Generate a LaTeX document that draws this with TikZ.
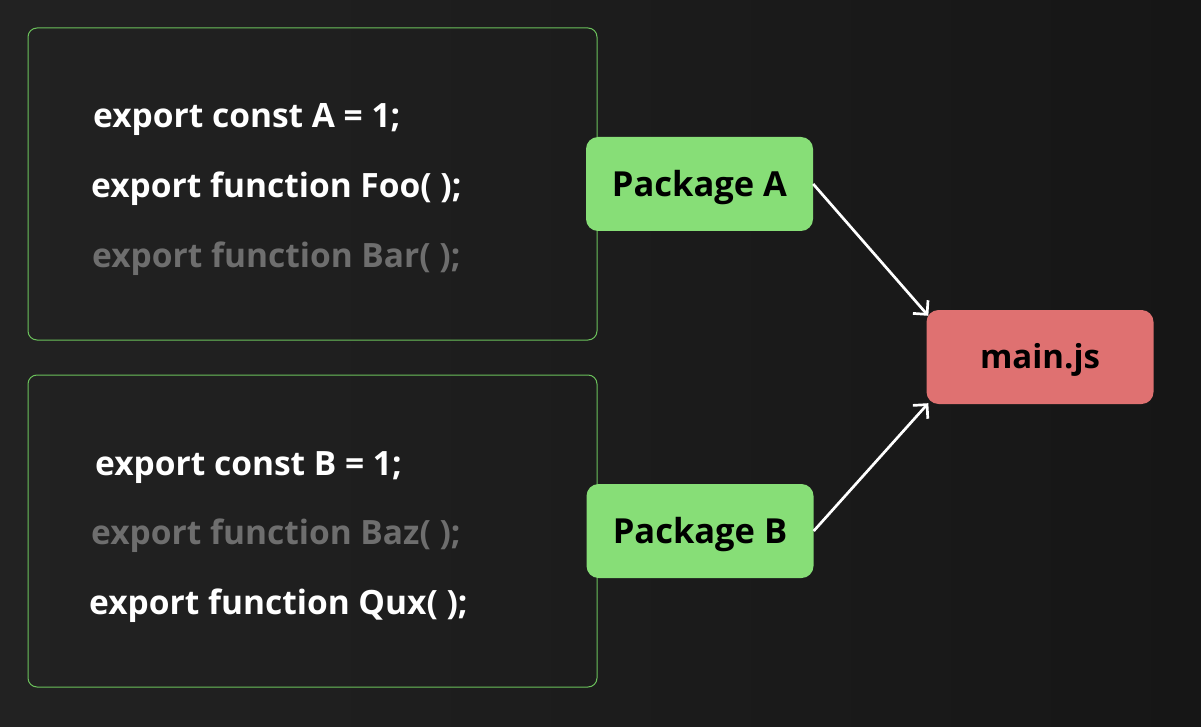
\documentclass[tikz,border=0pt]{standalone}
\usepackage{fontspec}
\setmainfont{Open Sans}
\usetikzlibrary{arrows.meta}
\definecolor{bgL}{HTML}{222222}
\definecolor{bgR}{HTML}{161616}
\definecolor{frameG}{HTML}{6BC15B}
\definecolor{pkgG}{HTML}{87DE77}
\definecolor{mainR}{HTML}{DF7171}
\definecolor{dimT}{HTML}{6E6E6E}
\tikzset{
  codebox/.style={draw=frameG, line width=1pt, rounded corners=9pt,
    minimum width=569pt, minimum height=312pt, inner sep=0pt},
  codeline/.style={anchor=west, inner sep=0pt, text=white,
    text height=24pt, text depth=0pt,
    font=\fontsize{33.5}{38}\selectfont\bfseries},
  dimline/.style={codeline, text=dimT},
  pkgbox/.style={fill=pkgG, rounded corners=12pt, minimum width=227pt,
    minimum height=94pt, inner sep=0pt, text=black,
    text height=24.5pt, text depth=0pt,
    font=\fontsize{34.5}{40}\selectfont\bfseries},
  mainbox/.style={pkgbox, fill=mainR, text height=23.5pt,
    font=\fontsize{33}{38}\selectfont\bfseries},
  link/.style={draw=white, line width=2.7pt,
    -{Straight Barb[length=10pt,width=20pt]}}
}
\begin{document}
\begin{tikzpicture}[x=1pt,y=-1pt]
\useasboundingbox (0,0) rectangle (1201,727);
\shade[left color=bgL, right color=bgR] (0,0) rectangle (1201,727);

\node[codebox] (boxA) at (312.5,184) {};
\node[codebox] (boxB) at (312.5,531) {};

\node[codeline] (a1) at (93,116) {export const A = 1;};
\node[codeline] (a2) at (91,186) {export function Foo( );};
\node[dimline]  (a3) at (92,255) {export function Bar( );};

\node[codeline] (b1) at (95,463) {export const B = 1;};
\node[dimline]  (b2) at (91,532) {export function Baz( );};
\node[codeline] (b3) at (89,602) {export function Qux( );};

\node[pkgbox] (pkgA) at (699.5,184) {Package A};
\node[pkgbox] (pkgB) at (700,531) {Package B};
\node[mainbox] (main) at (1040,357) {main.js};

\draw[link] (pkgA.east) -- ([shift={(2,6)}]main.north west);
\draw[link] (pkgB.east) -- ([shift={(2,-1)}]main.south west);
\end{tikzpicture}
\end{document}
